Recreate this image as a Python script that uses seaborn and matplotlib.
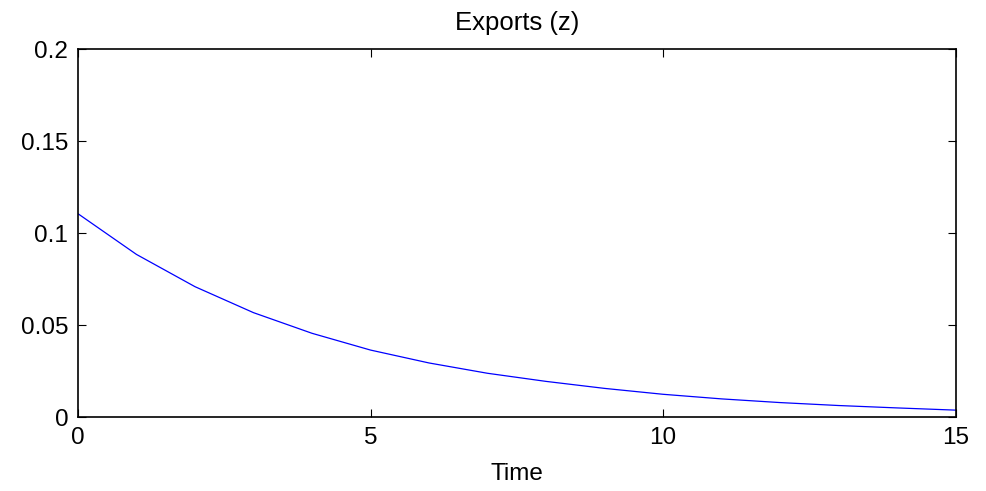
import matplotlib
matplotlib.use("Agg")
import matplotlib.pyplot as plt
import seaborn as sns
import pandas as pd

# Impulse response of exports over the horizon
time = list(range(16))
exports = [0.1106, 0.0885, 0.0710, 0.0569, 0.0457, 0.0366, 0.0296, 0.0240,
           0.0196, 0.0158, 0.0126, 0.0101, 0.0081, 0.0065, 0.0052, 0.0040]
x_ticks = [0, 5, 10, 15]
y_ticks = [0, 0.05, 0.1, 0.15, 0.2]
y_tick_labels = ["0", "0.05", "0.1", "0.15", "0.2"]

sns.set_style("white")
plt.rcParams["font.family"] = ["Liberation Sans", "DejaVu Sans"]

df = pd.DataFrame({"Time": time, "Exports": exports})

fig = plt.figure(figsize=(9.86, 4.91), dpi=100)
ax = fig.add_axes([0.0791, 0.1497, 0.8900, 0.7505])

sns.lineplot(data=df, x="Time", y="Exports", ax=ax, color="#0000ff", linewidth=0.9)

ax.set_xlim(0, 15)
ax.set_ylim(0, 0.2)
ax.set_xticks(x_ticks)
ax.set_xticklabels([str(t) for t in x_ticks])
ax.set_yticks(y_ticks)
ax.set_yticklabels(y_tick_labels)

ax.tick_params(direction="in", length=6, width=0.8, colors="black",
               labelsize=17.5, top=True, right=True, bottom=True, left=True)
ax.tick_params(axis="y", pad=7)
ax.tick_params(axis="x", pad=7)
for side in ax.spines.values():
    side.set_visible(True)
    side.set_color("black")
    side.set_linewidth(1.2)

ax.set_xlabel("Time", fontsize=17.5, labelpad=10, color="black")
ax.set_ylabel("")
ax.set_title("Exports (z)", fontsize=18.5, pad=14, color="black")

fig.savefig("out.png", dpi=100, facecolor="white")
